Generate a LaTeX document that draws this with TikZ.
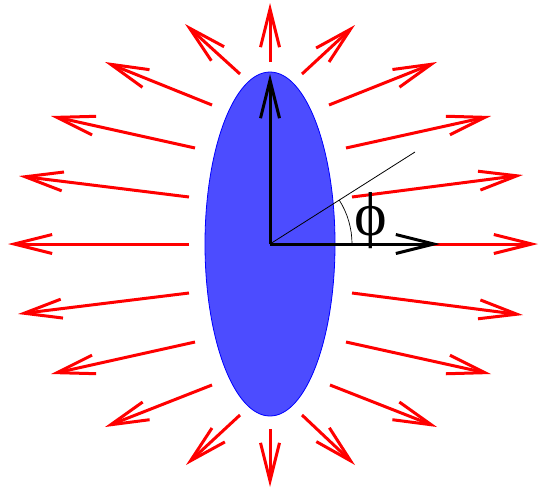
\documentclass[tikz,border=0pt]{standalone}
\usepackage{fontspec}
\newfontfamily\phifont{Liberation Serif}
\usetikzlibrary{arrows.meta,shapes.geometric}
\definecolor{ellfill}{HTML}{4C4CFF}
\tikzset{
  field/.style={draw=red, line width=3pt, -{Straight Barb[length=38pt,width=19pt,line width=3pt]}},
  axis/.style={draw=black, line width=3pt, -{Straight Barb[length=38pt,width=19pt,line width=3pt]}},
}
\begin{document}
\begin{tikzpicture}[x=1pt,y=-1pt]
\useasboundingbox (0,0) rectangle (543,488);
\node[draw=blue, fill=ellfill, line width=0.8pt, ellipse, minimum width=130pt, minimum height=344pt, inner sep=0pt] (E) at (270,244) {};
% field arrows: start -> tip
\foreach \i/\sx/\sy/\tx/\ty in {
 1/270/62/270/3, 2/240/74/185/24, 3/302/74/355/25,
 4/212/105/105/62, 5/329/105/437/62,
 6/195/148/51/116, 7/346/148/491/116,
 8/189/197/19/176, 9/352/197/523/175,
 10/189/244/8/244, 11/352/244/538/244,
 12/189/293/18/314, 13/352/293/523/315,
 14/195/342/51/374, 15/346/342/491/374,
 16/212/385/105/427, 17/330/385/437/427,
 18/240/415/186/465, 19/302/415/355/465,
 20/270/429/270/487}{
  \coordinate (s\i) at (\sx,\sy);
  \coordinate (t\i) at (\tx,\ty);
  \draw[field] (s\i) -- (t\i);
}
\coordinate (O) at (270,244);
\coordinate (Xtip) at (440,244);
\coordinate (Ytip) at (270,74);
\coordinate (L) at (415,152);
\draw[axis] (O) -- (Xtip);
\draw[axis] (O) -- (Ytip);
\draw[line width=0.8pt] (O) -- (L);
\draw[line width=0.7pt] ([xshift=82pt]O) arc[start angle=0, end angle=32.4, radius=82pt];
\node[font=\phifont\fontsize{62}{62}\selectfont, inner sep=0pt] (phi) at (371,221) {ϕ};
\end{tikzpicture}
\end{document}
